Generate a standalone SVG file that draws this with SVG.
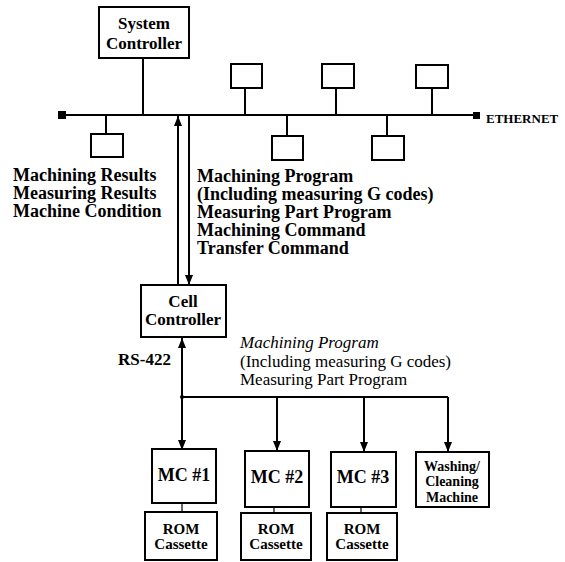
<svg xmlns="http://www.w3.org/2000/svg" width="565" height="562" viewBox="0 0 565 562">
<style>
.box{fill:#fff;stroke:#000;stroke-width:2}
.ln{stroke:#000;stroke-width:2;fill:none}
.thin{stroke:#000;stroke-width:1.2;fill:none}
text{font-family:"Liberation Serif","Times New Roman",serif;fill:#000}
.b{font-weight:bold}
.c{text-anchor:middle}
</style>
<defs>
<marker id="ah" markerUnits="userSpaceOnUse" markerWidth="10" markerHeight="10" viewBox="0 0 10 10" refX="10" refY="5" orient="auto">
<path d="M0,1 L10,5 L0,9 z" fill="#000"/>
</marker>
</defs>
<rect width="565" height="562" fill="#fff"/>
<g id="connectors">
<line class="ln" x1="62" y1="115" x2="477" y2="115"/>
<rect x="58" y="111" width="8" height="8" fill="#000"/>
<rect x="473" y="112" width="7" height="7" fill="#000"/>
<line class="ln" x1="143" y1="58" x2="143" y2="115"/>
<line class="ln" x1="245" y1="88" x2="245" y2="115"/>
<line class="ln" x1="336" y1="88" x2="336" y2="115"/>
<line class="ln" x1="432" y1="88" x2="432" y2="115"/>
<line class="ln" x1="106" y1="115" x2="106" y2="134"/>
<line class="ln" x1="287" y1="115" x2="287" y2="136"/>
<line class="ln" x1="387" y1="115" x2="387" y2="136"/>
<line class="ln" x1="178" y1="285" x2="178" y2="116" marker-end="url(#ah)"/>
<line class="ln" x1="189" y1="115" x2="189" y2="285" marker-end="url(#ah)"/>
<line class="ln" x1="182" y1="397" x2="182" y2="338" marker-end="url(#ah)"/>
<line class="ln" x1="182" y1="397" x2="448" y2="397"/>
<circle cx="182" cy="397" r="2" fill="#000"/>
<line class="ln" x1="182" y1="397" x2="182" y2="450" marker-end="url(#ah)"/>
<line class="ln" x1="277" y1="397" x2="277" y2="451" marker-end="url(#ah)"/>
<line class="ln" x1="364" y1="397" x2="364" y2="452" marker-end="url(#ah)"/>
<line class="ln" x1="448" y1="397" x2="448" y2="452" marker-end="url(#ah)"/>
<line class="thin" x1="182" y1="503" x2="182" y2="512"/>
<line class="thin" x1="274" y1="507" x2="274" y2="513"/>
<line class="thin" x1="361" y1="507" x2="361" y2="513"/>
</g>
<g id="system-controller">
<rect class="box" x="99" y="7" width="90" height="51"/>
<text class="b c" x="144" y="29" font-size="17">System</text>
<text class="b c" x="144" y="49" font-size="17">Controller</text>
</g>
<g id="node-top1"><rect class="box" x="231" y="64" width="31" height="24"/></g>
<g id="node-top2"><rect class="box" x="322" y="64" width="32" height="24"/></g>
<g id="node-top3"><rect class="box" x="416" y="65" width="32" height="23"/></g>
<g id="node-bot1"><rect class="box" x="91" y="134" width="32" height="23"/></g>
<g id="node-bot2"><rect class="box" x="272" y="136" width="31" height="24"/></g>
<g id="node-bot3"><rect class="box" x="372" y="136" width="32" height="24"/></g>
<g id="ethernet-label"><text class="b" x="486" y="123" font-size="13">ETHERNET</text></g>
<g id="up-labels">
<text class="b" x="13" y="181" font-size="18">Machining Results</text>
<text class="b" x="13" y="199" font-size="18">Measuring Results</text>
<text class="b" x="13" y="217" font-size="18">Machine Condition</text>
</g>
<g id="down-labels">
<text class="b" x="197" y="182" font-size="18">Machining Program</text>
<text class="b" x="197" y="200" font-size="18">(Including measuring G codes)</text>
<text class="b" x="197" y="218" font-size="18">Measuring Part Program</text>
<text class="b" x="197" y="236" font-size="18">Machining Command</text>
<text class="b" x="197" y="254" font-size="18">Transfer Command</text>
</g>
<g id="cell-controller">
<rect class="box" x="141" y="285" width="85" height="52"/>
<text class="b c" x="183" y="307" font-size="17">Cell</text>
<text class="b c" x="183" y="325" font-size="17">Controller</text>
</g>
<g id="rs422"><text class="b" x="118" y="365" font-size="17">RS-422</text></g>
<g id="cell-labels">
<text x="240" y="348" font-size="17" font-style="italic">Machining Program</text>
<text x="240" y="367" font-size="17">(Including measuring G codes)</text>
<text x="240" y="385" font-size="17">Measuring Part Program</text>
</g>
<g id="mc1">
<rect class="box" x="152" y="449" width="64" height="54"/>
<text class="b c" x="184" y="481" font-size="18">MC #1</text>
</g>
<g id="mc2">
<rect class="box" x="245" y="451" width="64" height="56"/>
<text class="b c" x="277" y="483" font-size="18">MC #2</text>
</g>
<g id="mc3">
<rect class="box" x="331" y="452" width="65" height="55"/>
<text class="b c" x="363" y="483" font-size="18">MC #3</text>
</g>
<g id="washing">
<rect class="box" x="416" y="452" width="73" height="55"/>
<text class="b c" x="452" y="471" font-size="14">Washing/</text>
<text class="b c" x="452" y="486" font-size="14">Cleaning</text>
<text class="b c" x="452" y="502" font-size="14">Machine</text>
</g>
<g id="rom1">
<rect class="box" x="145" y="512" width="72" height="48"/>
<text class="b c" x="181" y="534" font-size="15">ROM</text>
<text class="b c" x="181" y="549" font-size="15">Cassette</text>
</g>
<g id="rom2">
<rect class="box" x="241" y="513" width="70" height="47"/>
<text class="b c" x="276" y="534" font-size="15">ROM</text>
<text class="b c" x="276" y="549" font-size="15">Cassette</text>
</g>
<g id="rom3">
<rect class="box" x="327" y="513" width="70" height="47"/>
<text class="b c" x="362" y="534" font-size="15">ROM</text>
<text class="b c" x="362" y="549" font-size="15">Cassette</text>
</g>
</svg>
